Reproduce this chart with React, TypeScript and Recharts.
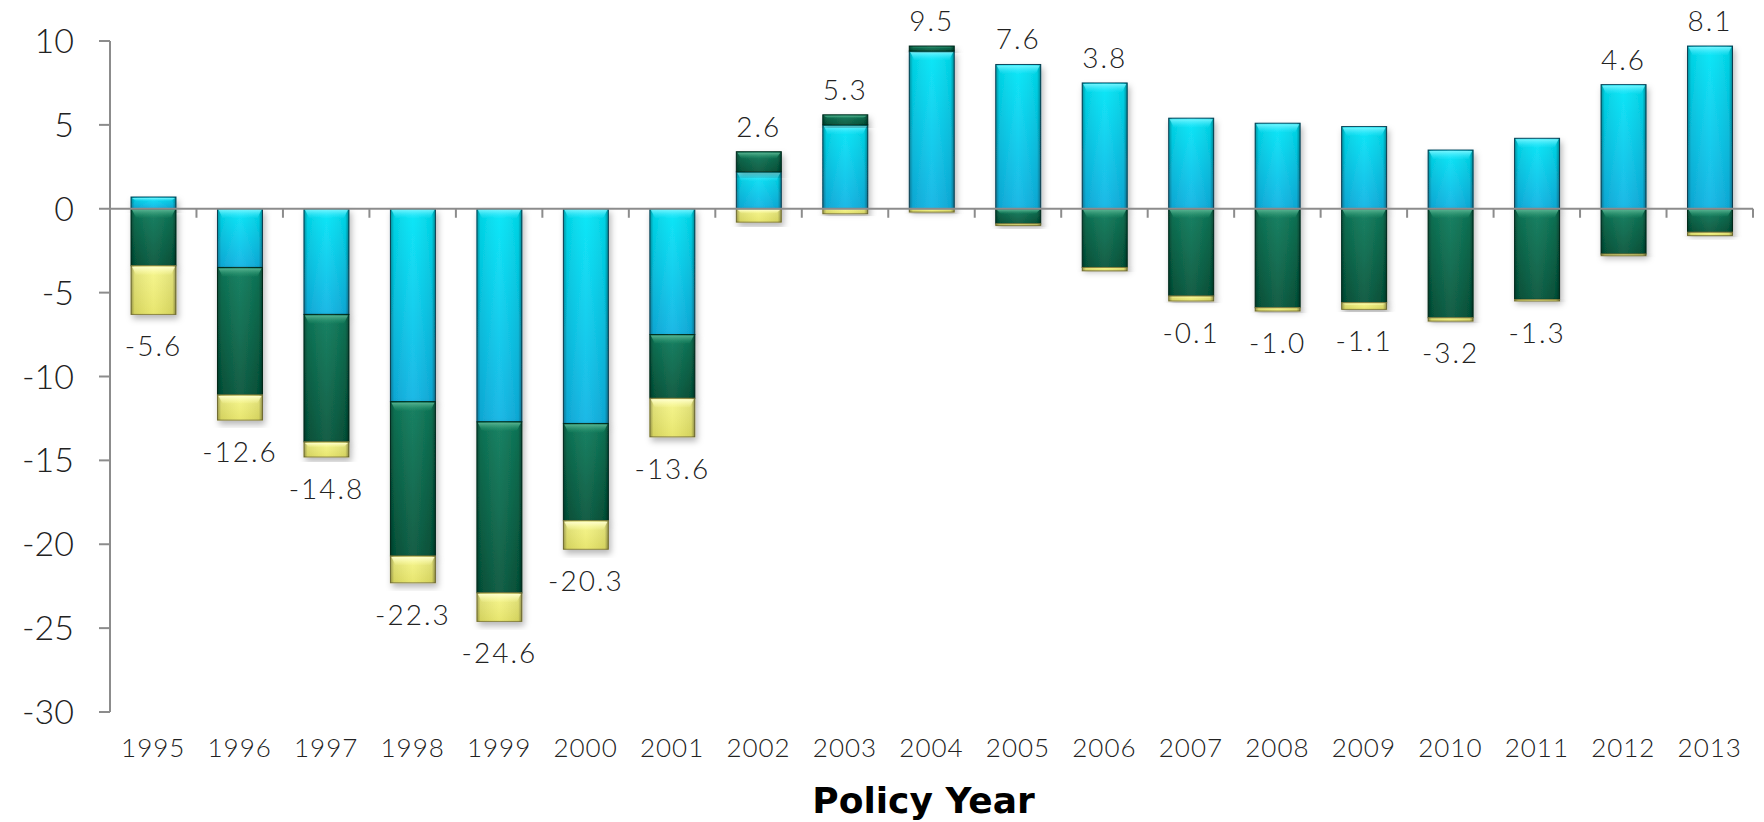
import React from "react"
import { BarChart, Bar, XAxis, YAxis, ReferenceLine, LabelList } from "recharts"

const YEARS = ["1995", "1996", "1997", "1998", "1999", "2000", "2001", "2002", "2003", "2004", "2005", "2006", "2007", "2008", "2009", "2010", "2011", "2012", "2013"]
const BLUE = [0.7, -3.5, -6.3, -11.5, -12.7, -12.8, -7.5, 2.2, 5.0, 9.4, 8.6, 7.5, 5.4, 5.1, 4.9, 3.5, 4.2, 7.4, 9.7]
const GREEN = [-3.4, -7.6, -7.6, -9.2, -10.2, -5.8, -3.8, 1.2, 0.6, 0.3, -0.9, -3.5, -5.2, -5.9, -5.6, -6.5, -5.4, -2.7, -1.4]
const YELLOW = [-2.9, -1.5, -0.9, -1.6, -1.7, -1.7, -2.3, -0.8, -0.3, -0.2, -0.1, -0.2, -0.3, -0.2, -0.4, -0.2, -0.1, -0.1, -0.2]
const TOTALS = [-5.6, -12.6, -14.8, -22.3, -24.6, -20.3, -13.6, 2.6, 5.3, 9.5, 7.6, 3.8, -0.1, -1.0, -1.1, -3.2, -1.3, 4.6, 8.1]
const Y_TICKS = [-30, -25, -20, -15, -10, -5, 0, 5, 10]

const KEYS = ["blue", "green", "yellow"] as const

const data = YEARS.map((year, i) => ({
  year,
  blue: BLUE[i],
  green: GREEN[i],
  yellow: YELLOW[i],
  total: TOTALS[i],
}))

// which segment sits at the outer end of the stack (where the total label goes)
function outerKey(i: number) {
  const row: any = data[i]
  const sign = row.total >= 0 ? 1 : -1
  let last: string | null = null
  for (const k of KEYS) if (row[k] * sign > 0) last = k
  return last
}

const EDGE: Record<string, string> = { blue: "#0b4a60", green: "#02301f", yellow: "#8a8440" }

const glossy = (kind: string) => (props: any) => {
  const { x, y, width, height } = props
  const top = Math.min(y, y + height)
  const h = Math.abs(height)
  if (!h || !width) return <g />
  const bevel = Math.min(9, h / 3)
  return (
    <g filter="url(#barShadow)">
      <rect x={x} y={top} width={width} height={h} fill={`url(#${kind}Fill)`} stroke={EDGE[kind]} strokeWidth={1} />
      <rect x={x} y={top} width={width} height={h} fill="url(#edgeShade)" />
      {h > 4 && (
        <path
          d={`M${x + 1},${top + 1} L${x + width - 1},${top + 1} L${x + width - 5},${top + bevel} L${x + 5},${top + bevel} Z`}
          fill={`url(#${kind}Bevel)`}
        />
      )}
    </g>
  )
}

const totalLabel = (kind: string) => (props: any) => {
  const { x, y, width, height, index } = props
  if (outerKey(index) !== kind) return null
  const total = TOTALS[index]
  const top = Math.min(y, y + height)
  const bottom = Math.max(y, y + height)
  const ty = total >= 0 ? top - 15 : bottom + 42
  return (
    <text
      x={x + width / 2}
      y={ty}
      textAnchor="middle"
      fontFamily="Lato"
      fontWeight={300}
      fontSize={28}
      letterSpacing={2}
      fill="#222"
    >
      {total.toFixed(1)}
    </text>
  )
}

const zeroAxis = (props: any) => {
  const { x1, x2, y1 } = props
  const n = YEARS.length
  const step = (x2 - x1) / n
  return (
    <g>
      <line x1={x1} x2={x2} y1={y1} y2={y1} stroke="#8c8c8c" strokeWidth={2} />
      {Array.from({ length: n + 1 }, (_, k) => (
        <line key={k} x1={x1 + k * step} x2={x1 + k * step} y1={y1} y2={y1 + 9} stroke="#8c8c8c" strokeWidth={2} />
      ))}
    </g>
  )
}

export default function App() {
  return (
    <div style={{ position: "absolute", left: 0, top: 0, width: 1764, height: 822, background: "#fff" }}>
      <svg width={0} height={0} style={{ position: "absolute" }}>
        <defs>
          <linearGradient id="blueFill" x1="0" y1="0" x2="0" y2="1">
            <stop offset="0%" stopColor="#00e6f7" />
            <stop offset="100%" stopColor="#10b4e4" />
          </linearGradient>
          <linearGradient id="greenFill" x1="0" y1="0" x2="0" y2="1">
            <stop offset="0%" stopColor="#0c7a5a" />
            <stop offset="100%" stopColor="#05553b" />
          </linearGradient>
          <linearGradient id="yellowFill" x1="0" y1="0" x2="0" y2="1">
            <stop offset="0%" stopColor="#f6f68a" />
            <stop offset="100%" stopColor="#e6e466" />
          </linearGradient>
          <linearGradient id="edgeShade" x1="0" y1="0" x2="1" y2="0">
            <stop offset="0%" stopColor="#000" stopOpacity={0.35} />
            <stop offset="8%" stopColor="#000" stopOpacity={0.08} />
            <stop offset="50%" stopColor="#fff" stopOpacity={0.06} />
            <stop offset="92%" stopColor="#000" stopOpacity={0.08} />
            <stop offset="100%" stopColor="#000" stopOpacity={0.4} />
          </linearGradient>
          <linearGradient id="blueBevel" x1="0" y1="0" x2="0" y2="1">
            <stop offset="0%" stopColor="#7ff6ff" stopOpacity={0.9} />
            <stop offset="100%" stopColor="#40e8ff" stopOpacity={0.1} />
          </linearGradient>
          <linearGradient id="greenBevel" x1="0" y1="0" x2="0" y2="1">
            <stop offset="0%" stopColor="#5fb896" stopOpacity={0.9} />
            <stop offset="100%" stopColor="#2a9a70" stopOpacity={0.1} />
          </linearGradient>
          <linearGradient id="yellowBevel" x1="0" y1="0" x2="0" y2="1">
            <stop offset="0%" stopColor="#ffffd0" stopOpacity={0.95} />
            <stop offset="100%" stopColor="#ffffb0" stopOpacity={0.1} />
          </linearGradient>
          <filter id="barShadow" x="-20%" y="-20%" width="150%" height="150%">
            <feDropShadow dx={2} dy={4} stdDeviation={3} floodColor="#000" floodOpacity={0.28} />
          </filter>
        </defs>
      </svg>
      <BarChart
        width={1764}
        height={822}
        data={data}
        stackOffset="sign"
        margin={{ top: 41, right: 11, bottom: 0, left: 0 }}
      >
        <XAxis
          dataKey="year"
          height={110}
          interval={0}
          axisLine={false}
          tickLine={false}
          tickSize={0}
          tickMargin={27}
          tick={{ fontSize: 26, fontFamily: "Lato", fontWeight: 300, fill: "#222", letterSpacing: 1 }}
          label={{
            value: "Policy Year",
            position: "insideBottom",
            offset: 9,
            dx: -8,
            style: { fontSize: 36, fontFamily: "DejaVu Sans", fontWeight: 700, fill: "#000" },
          }}
        />
        <YAxis
          domain={[-30, 10]}
          ticks={Y_TICKS}
          interval={0}
          width={110}
          tickSize={11}
          tickMargin={25}
          axisLine={{ stroke: "#8c8c8c", strokeWidth: 2 }}
          tickLine={{ stroke: "#8c8c8c", strokeWidth: 2 }}
          tick={{ fontSize: 34, fontFamily: "Lato", fontWeight: 300, fill: "#222" }}
        />
        {KEYS.map((k) => (
          <Bar key={k} dataKey={k} stackId="a" barSize={45} shape={glossy(k)} isAnimationActive={false}>
            <LabelList dataKey={k} content={totalLabel(k)} />
          </Bar>
        ))}
        <ReferenceLine y={0} shape={zeroAxis} />
      </BarChart>
    </div>
  )
}
